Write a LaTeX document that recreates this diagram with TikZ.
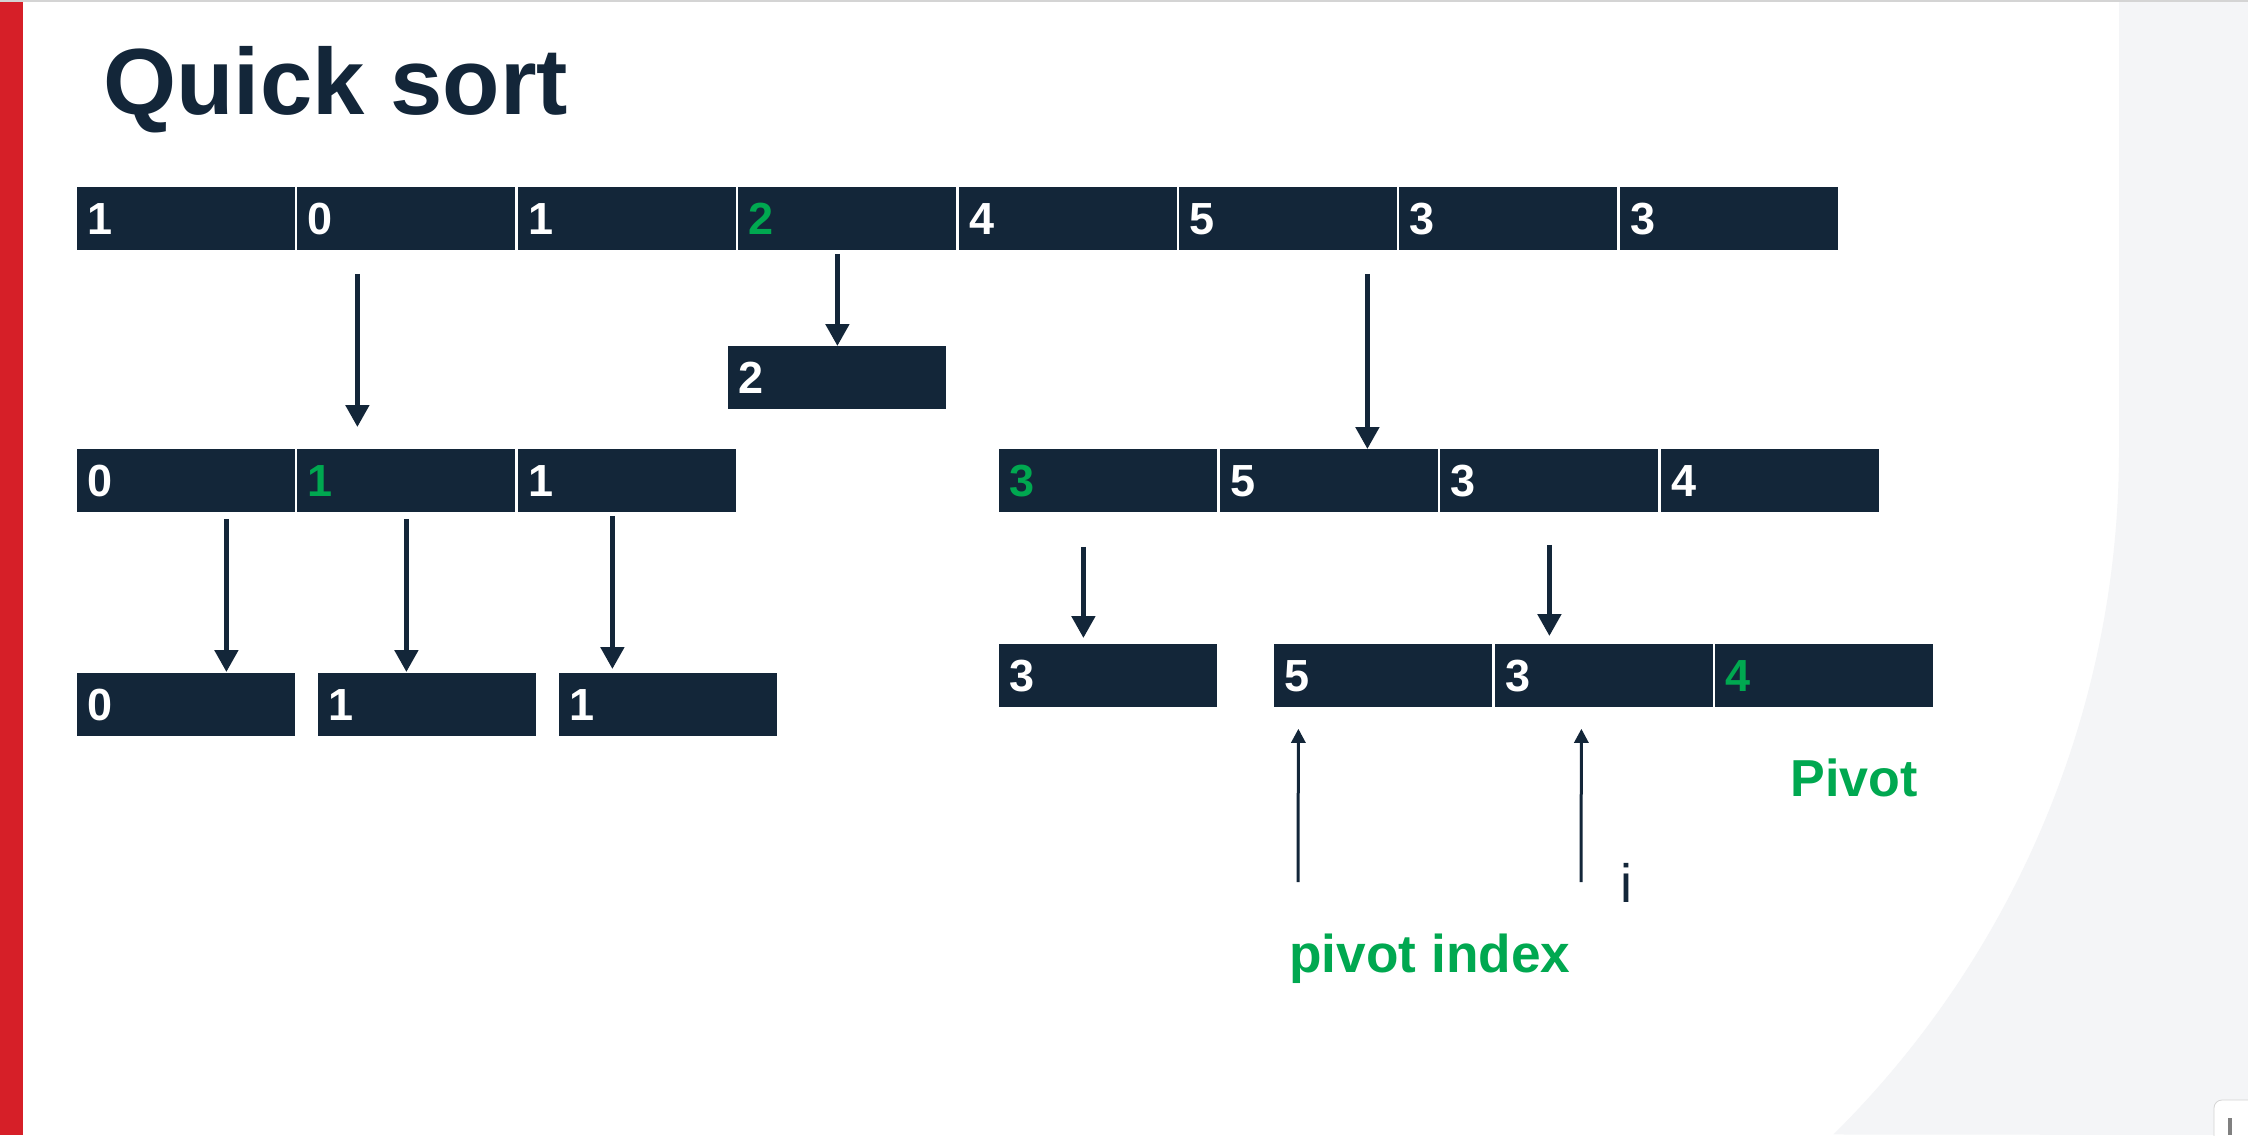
\documentclass[tikz,border=0pt]{standalone}
\usepackage{fontspec}
\setmainfont{Liberation Sans}
\usetikzlibrary{arrows.meta,calc}
\definecolor{navy}{RGB}{19,38,57}
\definecolor{pivgreen}{RGB}{0,168,80}
\definecolor{redbar}{RGB}{214,31,40}
\definecolor{panel}{RGB}{244,245,247}
\definecolor{rulegray}{RGB}{212,212,212}
\begin{document}
\begin{tikzpicture}[x=0.5pt,y=-0.5pt,
	cell/.style={fill=navy,text=white,anchor=north west,minimum width=109pt,minimum height=31.5pt,
		inner xsep=5pt,inner ysep=0pt,text width=99pt,align=left,font=\bfseries\fontsize{22.5}{27}\selectfont},
	pick/.style={cell,text=pivgreen},
	down/.style={-{Triangle[width=11.5pt,length=11pt]},line width=2.5pt,navy},
	up/.style={-{Triangle[width=7pt,length=7pt]},line width=1.5pt,navy},
	note/.style={anchor=base west,inner sep=0pt,text=pivgreen,font=\bfseries\fontsize{26}{31}\selectfont}]
		\useasboundingbox (0,0) rectangle (2248,1135);
		\fill[white] (0,0) rectangle (2248,1135);
		\fill[panel] (2119,0) -- (2119,450) arc[start angle=0,end angle=-45.3,radius=481.5pt] -- (2248,1135) -- (2248,0) -- cycle;
		\draw[rulegray,line width=1pt] (0,1) -- (2248,1);
		\fill[redbar] (0,2) rectangle (23,1135);
		\draw[rulegray,fill=white,rounded corners=4pt] (2214,1100) rectangle (2270,1160);
		\draw[gray,line width=2pt] (2230,1118) -- (2230,1135);
		% title
		\node[anchor=base west,inner sep=0pt,text=navy,font=\bfseries\fontsize{47}{56}\selectfont] (title) at (103,114) {Quick sort};
		% whole array
		\node[cell] (t1) at (77,187) {1};
		\node[cell] (t2) at (297,187) {0};
		\node[cell] (t3) at (518,187) {1};
		\node[pick] (t4) at (738,187) {2};
		\node[cell] (t5) at (959,187) {4};
		\node[cell] (t6) at (1179,187) {5};
		\node[cell] (t7) at (1399,187) {3};
		\node[cell] (t8) at (1620,187) {3};
		\node[cell] (p) at (728,346) {2};
		% left part
		\node[cell] (m1) at (77,449) {0};
		\node[pick] (m2) at (297,449) {1};
		\node[cell] (m3) at (518,449) {1};
		\node[cell] (l1) at (77,673) {0};
		\node[cell] (l2) at (318,673) {1};
		\node[cell] (l3) at (559,673) {1};
		% right part
		\node[pick] (r1) at (999,449) {3};
		\node[cell] (r2) at (1220,449) {5};
		\node[cell] (r3) at (1440,449) {3};
		\node[cell] (r4) at (1661,449) {4};
		\node[cell] (s1) at (999,644) {3};
		\node[cell] (s2) at (1274,644) {5};
		\node[cell] (s3) at (1495,644) {3};
		\node[pick] (s4) at (1715,644) {4};
		\draw[down] ($(t2.south)+(-49,23)$) -- ($(m2.north)+(-49,-22)$);
		\draw[down] ($(t4.south)+(-10,3)$) -- (p.north);
		\draw[down] ($(t6.south)+(79,23)$) -- ($(r2.north)+(38,0)$);
		\draw[down] ($(m1.south)+(40,6)$) -- ($(l1.north)+(40,-1)$);
		\draw[down] ($(m2.south)+(0,6)$) -- ($(l2.north)+(-21,-1)$);
		\draw[down] ($(m3.south)+(-15,3)$) -- ($(l3.north)+(-56,-4)$);
		\draw[down] ($(r1.south)+(-25,34)$) -- ($(s1.north)+(-25,-6)$);
		\draw[down] ($(r3.south)+(0,32)$) -- ($(s3.north)+(-55,-8)$);
		% pointers
		\coordinate (pidx) at (1298,882);
		\coordinate (iidx) at (1581,882);
		\draw[up] (pidx) -- ($(s2.south)+(-85,21)$);
		\draw[up] (iidx) -- ($(s3.south)+(-23,21)$);
		\node[note] (pivlbl) at (1790,796) {Pivot};
		\node[note,font=\bfseries\fontsize{26.6}{31}\selectfont] (idxlbl) at (1289,972) {pivot index};
		\node[anchor=base west,inner sep=0pt,text=navy,font=\fontsize{27}{32}\selectfont] (ilbl) at (1620,902) {i};
\end{tikzpicture}
\end{document}
